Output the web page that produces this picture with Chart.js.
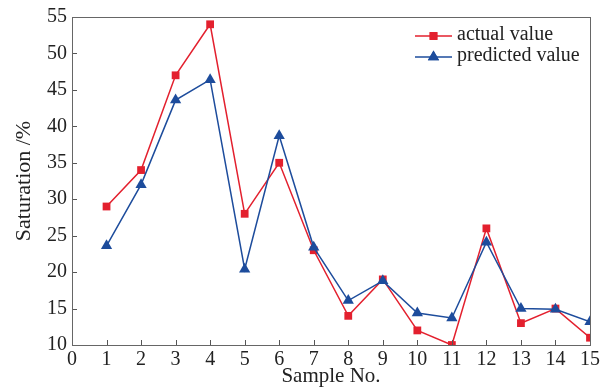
<!DOCTYPE html>
<html>
<head>
<meta charset="utf-8">
<script src="https://cdn.jsdelivr.net/npm/chart.js@4.4.0/dist/chart.umd.min.js"></script>
<style>
    html, body { margin: 0; padding: 0; background: #fff; }
    #wrap { width: 612px; height: 389px; }
</style>
</head>
<body>
<div id="wrap"><canvas id="satChart" width="612" height="389"></canvas></div>
<script>
const sampleNo = [1, 2, 3, 4, 5, 6, 7, 8, 9, 10, 11, 12, 13, 14, 15];
const actualValue = [29, 34, 47, 54, 28, 35, 23, 14, 19, 12, 10, 26, 13, 15, 11];
const predictedValue = [23.6, 32, 43.6, 46.4, 20.4, 38.7, 23.4, 16.1, 18.8, 14.4, 13.7, 24.1, 15, 14.9, 13.2];
const seriesNames = ['actual value', 'predicted value'];
const xTitle = 'Sample No.';
const yTitle = 'Saturation /%';

const RED = '#e3202e';
const BLUE = '#1d4c9c';
const FONT = '"Liberation Serif", "DejaVu Serif", serif';

function toPoints(values) {
    return sampleNo.map((x, i) => ({ x: x, y: values[i] }));
}

// inward tick marks plus the box around the plot
const frameTicks = {
    id: 'frameTicks',
    afterDraw(chart) {
        const ctx = chart.ctx;
        const area = chart.chartArea;
        const xs = chart.scales.x;
        const ys = chart.scales.y;
        ctx.save();
        ctx.strokeStyle = '#555';
        ctx.lineWidth = 1;
        ctx.beginPath();
        for (const t of xs.ticks) {
            const px = Math.round(xs.getPixelForValue(t.value)) + 0.5;
            ctx.moveTo(px, area.bottom);
            ctx.lineTo(px, area.bottom - 5);
        }
        for (const t of ys.ticks) {
            const py = Math.round(ys.getPixelForValue(t.value)) + 0.5;
            ctx.moveTo(area.left, py);
            ctx.lineTo(area.left + 5, py);
        }
        ctx.stroke();
        ctx.strokeStyle = '#666';
        ctx.strokeRect(Math.round(area.left) + 0.5, Math.round(area.top) + 0.5,
            Math.round(area.right - area.left), Math.round(area.bottom - area.top));
        ctx.restore();
    }
};

// legend drawn inside the plot, top right
const innerLegend = {
    id: 'innerLegend',
    afterDatasetsDraw(chart) {
        const ctx = chart.ctx;
        const x0 = 415, x1 = 452, textX = 457;
        const rows = [36, 57];
        ctx.save();
        chart.data.datasets.forEach((ds, i) => {
            const y = rows[i];
            ctx.strokeStyle = ds.borderColor;
            ctx.lineWidth = 1.5;
            ctx.beginPath();
            ctx.moveTo(x0, y);
            ctx.lineTo(x1, y);
            ctx.stroke();
            ctx.fillStyle = ds.pointBackgroundColor;
            Chart.helpers.drawPoint(ctx, {
                pointStyle: ds.pointStyle,
                radius: ds.pointRadius,
                borderWidth: 0,
                rotation: 0
            }, (x0 + x1) / 2, y);
            ctx.fill();
            ctx.fillStyle = '#222';
            ctx.font = '20px ' + FONT;
            ctx.textBaseline = 'middle';
            ctx.fillText(ds.label, textX, y - 1);
        });
        ctx.restore();
    }
};

new Chart(document.getElementById('satChart').getContext('2d'), {
    type: 'line',
    data: {
        datasets: [
            {
                label: seriesNames[0],
                data: toPoints(actualValue),
                borderColor: RED,
                backgroundColor: RED,
                pointBackgroundColor: RED,
                pointBorderWidth: 0,
                pointStyle: 'rect',
                pointRadius: 5.5,
                borderWidth: 1.5,
                tension: 0,
                order: 1
            },
            {
                label: seriesNames[1],
                data: toPoints(predictedValue),
                borderColor: BLUE,
                backgroundColor: BLUE,
                pointBackgroundColor: BLUE,
                pointBorderWidth: 0,
                pointStyle: 'triangle',
                pointRadius: 6.5,
                borderWidth: 1.5,
                tension: 0,
                order: 0
            }
        ]
    },
    options: {
        responsive: false,
        animation: false,
        layout: { padding: { left: 8, top: 17, right: 22, bottom: 0 } },
        plugins: {
            legend: { display: false },
            tooltip: { enabled: false }
        },
        scales: {
            x: {
                type: 'linear',
                min: 0,
                max: 15,
                ticks: { stepSize: 1, color: '#222', padding: 3, font: { family: FONT, size: 20 } },
                grid: { display: true, drawOnChartArea: false, drawTicks: false },
                border: { display: false },
                title: { display: true, text: xTitle, color: '#222', padding: { top: 0, bottom: 0 }, font: { family: FONT, size: 21 } },
                afterFit(scale) { scale.height = 44; }
            },
            y: {
                min: 10,
                max: 55,
                ticks: { stepSize: 5, color: '#222', padding: 5, font: { family: FONT, size: 20 } },
                grid: { display: true, drawOnChartArea: false, drawTicks: false },
                border: { display: false },
                title: { display: true, text: yTitle, color: '#222', padding: { top: 3, bottom: 0 }, font: { family: FONT, size: 22 } },
                afterFit(scale) { scale.width = 64; }
            }
        }
    },
    plugins: [frameTicks, innerLegend]
});
</script>
</body>
</html>
